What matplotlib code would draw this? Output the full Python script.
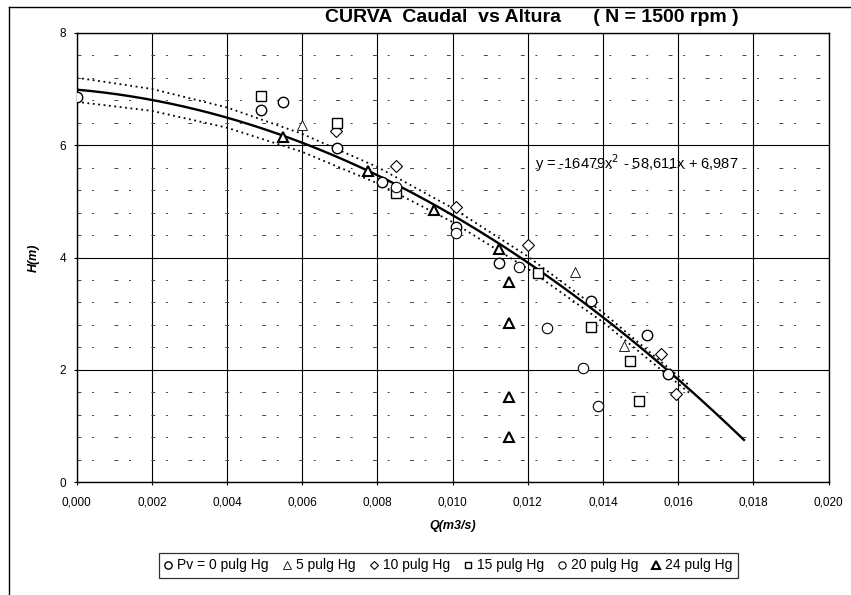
import numpy as np
import matplotlib
matplotlib.use("Agg")
import matplotlib.pyplot as plt
from matplotlib.lines import Line2D
from matplotlib.ticker import FuncFormatter, MultipleLocator

plt.rcParams['font.family'] = ['Liberation Sans', 'DejaVu Sans']

# Ensayos a distintas presiones de vacío: caudal Q (m3/s) y altura H (m)
q_pv0 = [0.0, 0.0049, 0.0055, 0.00692, 0.00813, 0.0101, 0.01124, 0.01369, 0.01517, 0.01573]
h_pv0 = [6.85, 6.63, 6.76, 5.94, 5.35, 4.55, 3.91, 3.23, 2.63, 1.93]

q_pv5 = [0.0060, 0.01326, 0.01455]
h_pv5 = [6.36, 3.75, 2.43]

q_pv10 = [0.0069, 0.0085, 0.0101, 0.0120, 0.01555, 0.01594]
h_pv10 = [6.25, 5.62, 4.90, 4.22, 2.28, 1.57]

q_pv15 = [0.00489, 0.00692, 0.00849, 0.01228, 0.01369, 0.01473, 0.01496]
h_pv15 = [6.88, 6.39, 5.14, 3.73, 2.77, 2.16, 1.45]

q_pv20 = [0.00849, 0.0101, 0.01177, 0.01252, 0.01346, 0.01388]
h_pv20 = [5.26, 4.43, 3.84, 2.75, 2.04, 1.36]

q_pv24 = [0.0055, 0.00775, 0.00951, 0.01124, 0.0115, 0.0115, 0.0115, 0.0115]
h_pv24 = [6.15, 5.54, 4.85, 4.16, 3.56, 2.83, 1.52, 0.80]

# Ajuste polinómico de segundo grado: y = a x^2 + b x + c
coef_a, coef_b, coef_c = -16479, -58.611, 6.987
q_fit_max = 0.01775

# Bandas de confianza (punteadas)
band_q = [0.0, 0.002, 0.004, 0.006, 0.008, 0.010, 0.012, 0.014, 0.0163]
band_up = [7.20, 7.00, 6.67, 6.20, 5.61, 4.88, 4.02, 3.02, 1.72]
band_lo = [6.77, 6.61, 6.31, 5.88, 5.32, 4.63, 3.80, 2.85, 1.59]

fig = plt.figure(figsize=(8.51, 5.95), dpi=100)
ax = fig.add_axes([0.0901, 0.1894, 0.8835, 0.7556])

# cuadricula principal y secundaria
ax.set_xlim(0, 0.020)
ax.set_ylim(0, 8)
ax.xaxis.set_major_locator(MultipleLocator(0.002))
ax.yaxis.set_major_locator(MultipleLocator(2))
ax.yaxis.set_minor_locator(MultipleLocator(0.4))
ax.grid(True, which='major', color='black', linewidth=0.8)
ax.grid(True, which='minor', axis='y', color='#444444', linewidth=0.7,
        linestyle=(0, (4, 11, 2, 21)))
ax.set_axisbelow(True)

# curva ajustada y bandas
q_line = np.linspace(0, q_fit_max, 200)
h_line = coef_a * q_line ** 2 + coef_b * q_line + coef_c
ax.plot(q_line, h_line, color='black', linewidth=1.7, zorder=3)
ax.plot(band_q, band_up, color='black', linewidth=1.3, linestyle=(0, (1, 2)), zorder=3)
ax.plot(band_q, band_lo, color='black', linewidth=1.3, linestyle=(0, (1, 2)), zorder=3)

mk = dict(linestyle='none', markerfacecolor='white', markeredgecolor='black', zorder=4)
ax.plot(q_pv0, h_pv0, marker='o', markersize=7.5, markeredgewidth=1.0,
        label='Pv = 0 pulg Hg', **mk)
ax.plot(q_pv5, h_pv5, marker='^', markersize=7.5, markeredgewidth=0.6,
        label='5 pulg Hg', **mk)
ax.plot(q_pv10, h_pv10, marker='D', markersize=6, markeredgewidth=0.8,
        label='10 pulg Hg', **mk)
ax.plot(q_pv15, h_pv15, marker='s', markersize=7, markeredgewidth=1.0,
        label='15 pulg Hg', **mk)
ax.plot(q_pv20, h_pv20, marker='o', markersize=7.5, markeredgewidth=0.8,
        label='20 pulg Hg', **mk)
ax.plot(q_pv24, h_pv24, marker='^', markersize=7.5, markeredgewidth=1.5,
        label='24 pulg Hg', **mk)

ax.text(0.01218, 5.68, 'y = -16479x$^2$ - 58,611x + 6,987', fontsize=10.5,
        va='center', ha='left', zorder=5)

for s in ax.spines.values():
    s.set_linewidth(1.0)
ax.tick_params(axis='both', which='major', direction='inout', length=5,
               width=0.8, labelsize=8.5)
ax.tick_params(axis='y', which='minor', length=0)
ax.tick_params(axis='x', pad=8)
ax.tick_params(axis='y', pad=5)
ax.xaxis.set_major_formatter(FuncFormatter(lambda v, p: f'{v:.3f}'.replace('.', ',')))
ax.yaxis.set_major_formatter(FuncFormatter(lambda v, p: f'{v:.0f}'))

ax.set_xlabel('Q(m3/s)', fontsize=9, fontweight='bold', fontstyle='italic', labelpad=8)
ax.set_ylabel('H(m)', fontsize=9, fontweight='bold', fontstyle='italic', labelpad=14)

fig.text(0.625, 0.971, 'CURVA  Caudal  vs Altura      ( N = 1500 rpm )',
         fontsize=14, fontweight='bold', ha='center', va='center')

leg = fig.legend(loc='center', bbox_to_anchor=(0.527, 0.0496), ncol=6,
                 fontsize=10, frameon=True, fancybox=False, handlelength=0.6,
                 handletextpad=0.35, columnspacing=1.0, borderpad=0.4,
                 edgecolor='black', markerscale=0.7)
leg.get_frame().set_linewidth(0.9)

# marco exterior del gráfico
fig.add_artist(Line2D([9 / 851, 9 / 851], [0.0, 1 - 7 / 595], color='black',
                      linewidth=1.0, transform=fig.transFigure))
fig.add_artist(Line2D([9 / 851, 1.0], [1 - 7 / 595, 1 - 7 / 595], color='black',
                      linewidth=1.0, transform=fig.transFigure))

fig.savefig('out.png', dpi=100)
